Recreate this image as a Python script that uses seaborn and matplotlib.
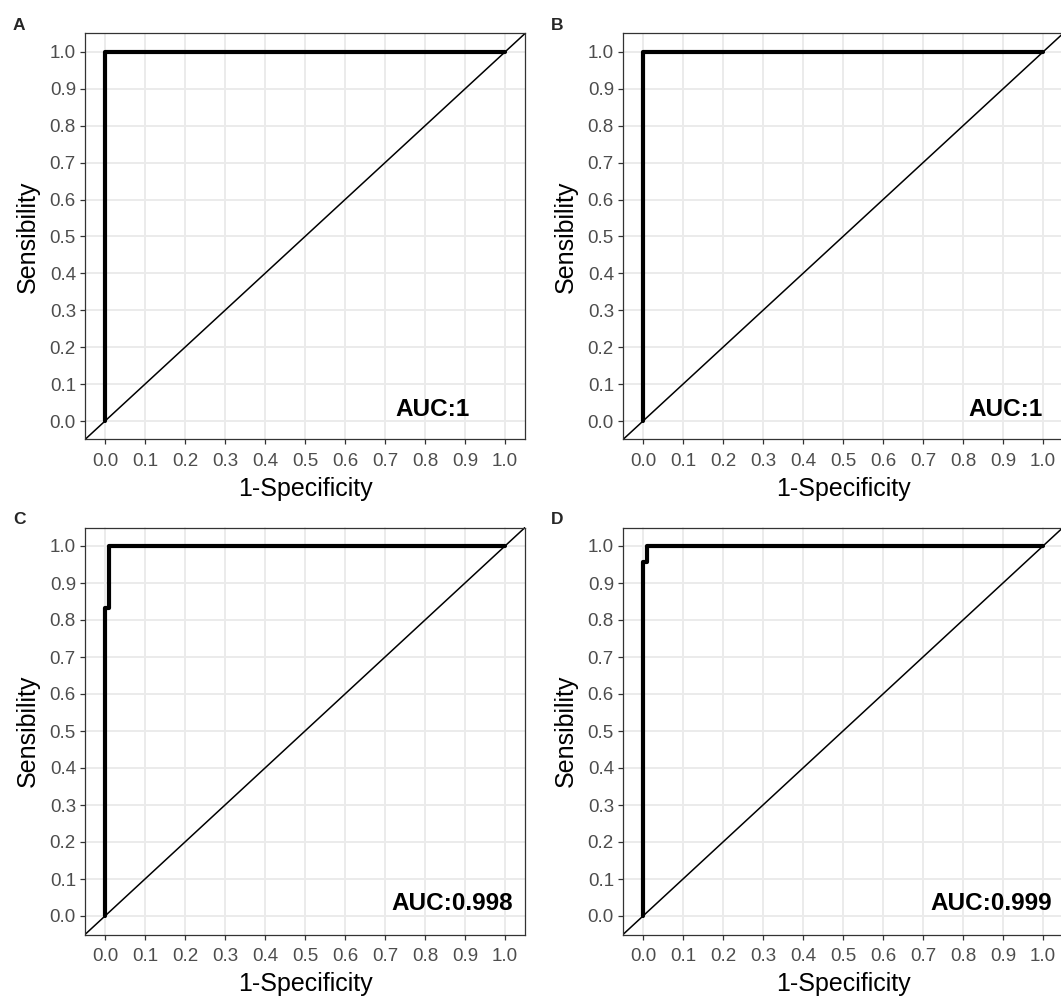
import seaborn as sns
import matplotlib.pyplot as plt
import matplotlib
import pandas as pd

# ROC curve points (1-specificity, sensibility)
fpr_a = [0.0, 0.0, 1.0]
tpr_a = [0.0, 1.0, 1.0]
fpr_b = [0.0, 0.0, 1.0]
tpr_b = [0.0, 1.0, 1.0]
fpr_c = [0.0, 0.0, 0.011, 0.011, 1.0]
tpr_c = [0.0, 0.833, 0.833, 1.0, 1.0]
fpr_d = [0.0, 0.0, 0.01, 0.01, 1.0]
tpr_d = [0.0, 0.958, 0.958, 1.0, 1.0]

panel_labels = ["A", "B", "C", "D"]
auc_labels = ["AUC:1", "AUC:1", "AUC:0.998", "AUC:0.999"]
auc_x = [0.819, 0.906, 0.8675, 0.87]
ticks = [0.0, 0.1, 0.2, 0.3, 0.4, 0.5, 0.6, 0.7, 0.8, 0.9, 1.0]
tick_labels = ["0.0", "0.1", "0.2", "0.3", "0.4", "0.5", "0.6", "0.7", "0.8", "0.9", "1.0"]

sns.set_style("white")
matplotlib.rcParams['font.family'] = ['Liberation Sans', 'DejaVu Sans']

W, H = 1061, 997
fig = plt.figure(figsize=(W / 100, H / 100), dpi=100)

# panel boxes in pixels: left, top, width, height
boxes = [(85, 33.5, 440, 406), (623, 33.5, 440, 406),
         (85, 527.5, 440, 407), (623, 527.5, 440, 407)]
curves = [(fpr_a, tpr_a), (fpr_b, tpr_b), (fpr_c, tpr_c), (fpr_d, tpr_d)]

for i, (box, (fx, ty)) in enumerate(zip(boxes, curves)):
    l, t, w, h = box
    ax = fig.add_axes([l / W, 1 - (t + h) / H, w / W, h / H])
    df = pd.DataFrame({"fpr": fx, "tpr": ty})
    ax.axline((0, 0), slope=1, color="black", lw=1.1, zorder=2)
    sns.lineplot(data=df, x="fpr", y="tpr", sort=False, estimator=None,
                 color="black", lw=3.0, ax=ax, zorder=3)
    ax.set_xlim(-0.05, 1.05)
    ax.set_ylim(-0.05, 1.05)
    ax.set_xticks(ticks)
    ax.set_yticks(ticks)
    ax.set_xticklabels(tick_labels)
    ax.set_yticklabels(tick_labels)
    ax.grid(True, color="#EBEBEB", lw=1.4, zorder=0)
    ax.set_axisbelow(True)
    for s in ax.spines.values():
        s.set_color("#333333")
        s.set_linewidth(0.9)
    ax.tick_params(axis="both", which="major", length=3.5, width=0.9, color="#333333",
                   labelsize=13.5, labelcolor="#4D4D4D", pad=3, bottom=True, left=True)
    ax.tick_params(axis="x", pad=6)
    ax.set_xlabel("1-Specificity", fontsize=18, color="black", labelpad=5)
    ax.set_ylabel("Sensibility", fontsize=18, color="black", labelpad=7)
    ax.text(auc_x[i], 0.015, auc_labels[i], ha="center", va="baseline",
            fontsize=17.5, fontweight="bold", color="black", zorder=4)
    fig.text((l - 72) / W, 1 - (t - 3.5) / H, panel_labels[i], ha="left", va="baseline",
             fontsize=12.5, fontweight="bold")

plt.savefig("out.png", dpi=100)
